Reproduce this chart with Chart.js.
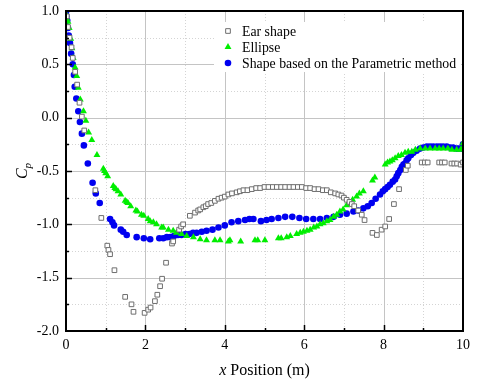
<!DOCTYPE html>
<html>
<head>
<meta charset="utf-8">
<script src="https://cdn.jsdelivr.net/npm/chart.js@4.4.0/dist/chart.umd.min.js"></script>
<style>
  html, body { margin: 0; padding: 0; background: #fff; }
</style>
</head>
<body>
<canvas id="chart" width="480" height="383"></canvas>
<script>
// Cp along the body
const earShape = [
  [0.02,0.95],[0.05,0.85],[0.09,0.75],[0.14,0.66],[0.17,0.56],[0.23,0.43],[0.28,0.31],[0.34,0.14],[0.40,0.01],[0.46,-0.12],
  [0.74,-0.68],[0.89,-0.94],[1.04,-1.20],[1.07,-1.24],[1.11,-1.28],[1.22,-1.43],[1.49,-1.68],[1.65,-1.75],[1.70,-1.82],[1.98,-1.83],
  [2.07,-1.80],[2.13,-1.78],[2.24,-1.72],[2.30,-1.66],[2.37,-1.58],[2.42,-1.51],[2.52,-1.36],[2.67,-1.18],[2.70,-1.16],[2.85,-1.05],
  [2.90,-1.02],[2.95,-1.00],[3.12,-0.92],[3.25,-0.89],[3.33,-0.87],[3.38,-0.86],[3.46,-0.84],[3.52,-0.83],[3.58,-0.81],[3.66,-0.80],
  [3.75,-0.78],[3.84,-0.76],[3.92,-0.75],[4.00,-0.74],[4.09,-0.72],[4.18,-0.71],[4.30,-0.70],[4.38,-0.69],[4.47,-0.68],[4.57,-0.68],
  [4.68,-0.67],[4.79,-0.66],[4.89,-0.66],[5.00,-0.65],[5.10,-0.65],[5.21,-0.65],[5.31,-0.65],[5.42,-0.65],[5.52,-0.65],[5.63,-0.65],
  [5.73,-0.65],[5.84,-0.65],[5.94,-0.65],[6.05,-0.66],[6.15,-0.66],[6.26,-0.67],[6.36,-0.67],[6.47,-0.68],[6.57,-0.68],[6.67,-0.70],
  [6.78,-0.71],[6.86,-0.72],[6.94,-0.73],[7.00,-0.75],[7.07,-0.77],[7.14,-0.79],[7.20,-0.81],[7.26,-0.83],[7.36,-0.87],[7.45,-0.91],
  [7.52,-0.96],[7.72,-1.08],[7.83,-1.10],[7.95,-1.05],[8.04,-1.02],[8.14,-0.95],[8.26,-0.81],[8.39,-0.67],[8.56,-0.49],[8.61,-0.45],
  [8.96,-0.42],[9.04,-0.42],[9.11,-0.42],[9.40,-0.42],[9.47,-0.42],[9.54,-0.42],[9.71,-0.43],[9.78,-0.43],[9.85,-0.43],[9.94,-0.44],
  [10.0,-0.42]
];

const ellipse = [
  [0.00,0.97],[0.02,0.93],[0.05,0.90],[0.08,0.84],[0.12,0.74],[0.15,0.65],[0.18,0.56],[0.23,0.47],[0.27,0.39],[0.31,0.28],
  [0.36,0.17],[0.44,0.06],[0.50,-0.03],[0.57,-0.14],[0.65,-0.21],[0.78,-0.35],[0.94,-0.48],[0.97,-0.50],[1.00,-0.52],[1.05,-0.55],
  [1.19,-0.64],[1.23,-0.66],[1.26,-0.67],[1.31,-0.69],[1.38,-0.72],[1.49,-0.78],[1.53,-0.79],[1.56,-0.80],[1.63,-0.83],[1.76,-0.87],
  [1.80,-0.88],[1.90,-0.91],[1.96,-0.92],[2.07,-0.95],[2.12,-0.97],[2.20,-0.98],[2.28,-1.00],[2.41,-1.03],[2.45,-1.03],[2.58,-1.05],
  [2.70,-1.06],[2.78,-1.08],[2.91,-1.09],[3.04,-1.11],[3.21,-1.12],[3.38,-1.14],[3.54,-1.15],[3.75,-1.15],[3.88,-1.15],[4.09,-1.16],
  [4.13,-1.15],[4.40,-1.16],[4.76,-1.15],[4.83,-1.15],[5.01,-1.15],[5.35,-1.13],[5.42,-1.13],[5.56,-1.12],[5.65,-1.11],[5.81,-1.09],
  [5.90,-1.08],[5.98,-1.07],[6.07,-1.06],[6.15,-1.05],[6.24,-1.03],[6.32,-1.02],[6.40,-1.00],[6.48,-0.99],[6.57,-0.97],[6.65,-0.96],
  [6.74,-0.93],[6.82,-0.91],[6.90,-0.88],[6.98,-0.86],[7.07,-0.82],[7.15,-0.80],[7.22,-0.77],[7.32,-0.74],[7.39,-0.71],[7.49,-0.69],
  [7.72,-0.59],[7.78,-0.56],[8.04,-0.44],[8.10,-0.42],[8.16,-0.41],[8.22,-0.40],[8.29,-0.38],[8.37,-0.36],[8.45,-0.35],[8.54,-0.33],
  [8.62,-0.32],[8.71,-0.32],[8.80,-0.30],[8.92,-0.29],[9.05,-0.29],[9.17,-0.29],[9.30,-0.29],[9.40,-0.29],[9.50,-0.29],[9.62,-0.29],
  [9.72,-0.30],[9.84,-0.30],[9.94,-0.30],[10.0,-0.28],[10.0,-0.24]
];

const parametric = [
  [0.00,0.99],[0.01,0.95],[0.03,0.91],[0.05,0.84],[0.07,0.77],[0.10,0.70],[0.13,0.60],[0.17,0.50],[0.20,0.40],[0.22,0.29],
  [0.26,0.18],[0.31,0.06],[0.35,-0.04],[0.40,-0.15],[0.45,-0.26],[0.55,-0.43],[0.67,-0.61],[0.75,-0.71],[0.85,-0.80],[1.11,-0.95],
  [1.17,-0.98],[1.21,-1.01],[1.38,-1.05],[1.44,-1.07],[1.53,-1.10],[1.78,-1.12],[1.96,-1.13],[2.12,-1.14],[2.35,-1.13],[2.45,-1.13],
  [2.54,-1.12],[2.63,-1.12],[2.72,-1.11],[2.82,-1.10],[2.91,-1.10],[3.01,-1.09],[3.11,-1.09],[3.20,-1.08],[3.29,-1.08],[3.42,-1.07],
  [3.54,-1.06],[3.69,-1.05],[3.84,-1.03],[4.00,-1.01],[4.17,-0.98],[4.34,-0.97],[4.51,-0.96],[4.62,-0.95],[4.72,-0.95],[4.91,-0.97],
  [5.05,-0.96],[5.18,-0.95],[5.35,-0.94],[5.52,-0.93],[5.70,-0.93],[5.88,-0.94],[6.05,-0.95],[6.23,-0.95],[6.40,-0.95],[6.57,-0.94],
  [6.74,-0.93],[6.90,-0.91],[7.07,-0.90],[7.24,-0.88],[7.36,-0.87],[7.49,-0.85],[7.60,-0.83],[7.70,-0.80],[7.80,-0.76],[7.91,-0.72],
  [7.98,-0.69],[8.04,-0.67],[8.10,-0.65],[8.16,-0.63],[8.23,-0.60],[8.29,-0.58],[8.33,-0.55],[8.37,-0.52],[8.42,-0.49],[8.46,-0.46],
  [8.50,-0.44],[8.54,-0.43],[8.58,-0.40],[8.62,-0.38],[8.69,-0.35],[8.75,-0.33],[8.83,-0.31],[8.92,-0.29],[9.00,-0.28],[9.09,-0.27],
  [9.17,-0.27],[9.25,-0.27],[9.34,-0.27],[9.42,-0.27],[9.50,-0.27],[9.59,-0.27],[9.67,-0.28],[9.75,-0.28],[9.84,-0.29],[9.90,-0.29],
  [9.97,-0.29],[10.0,-0.25]
];

const seriesNames = ['Ear shape', 'Ellipse', 'Shape based on the Parametric method'];
const xMajor = [2, 4, 6, 8];
const xMinor = [1, 3, 5, 7, 9];
const yMajor = [0.5, 0, -0.5, -1, -1.5];
const yMinor = [0.75, 0.25, -0.25, -0.75, -1.25, -1.75];

const SERIF = '"Liberation Serif", "Times New Roman", serif';

const toPts = arr => arr.map(p => ({ x: p[0], y: p[1] }));

// grid, frame, inward ticks, legend box and axis titles
const framePlugin = {
    id: 'frame',
    beforeDatasetsDraw(chart) {
        const { ctx, chartArea: a, scales: { x, y } } = chart;
        ctx.save();
        ctx.lineWidth = 1;

        ctx.strokeStyle = '#d4d4d4';
        ctx.setLineDash([1, 2]);
        xMinor.forEach(v => {
            const px = Math.round(x.getPixelForValue(v)) + 0.5;
            ctx.beginPath(); ctx.moveTo(px, a.top); ctx.lineTo(px, a.bottom); ctx.stroke();
        });
        yMinor.forEach(v => {
            const py = Math.round(y.getPixelForValue(v)) + 0.5;
            ctx.beginPath(); ctx.moveTo(a.left, py); ctx.lineTo(a.right, py); ctx.stroke();
        });

        ctx.setLineDash([]);
        ctx.strokeStyle = '#c4c4c4';
        xMajor.forEach(v => {
            const px = Math.round(x.getPixelForValue(v)) + 0.5;
            ctx.beginPath(); ctx.moveTo(px, a.top); ctx.lineTo(px, a.bottom); ctx.stroke();
        });
        yMajor.forEach(v => {
            const py = Math.round(y.getPixelForValue(v)) + 0.5;
            ctx.beginPath(); ctx.moveTo(a.left, py); ctx.lineTo(a.right, py); ctx.stroke();
        });
        ctx.restore();
    },
    afterDatasetsDraw(chart) {
        const { ctx, chartArea: a, scales: { x, y } } = chart;
        ctx.save();

        // legend
        ctx.fillStyle = '#fff';
        ctx.fillRect(214, 22, 247, 50);
        chart.data.datasets.forEach((ds, i) => {
            const cy = 31 + i * 16;
            ctx.fillStyle = ds.backgroundColor;
            ctx.strokeStyle = ds.borderColor;
            ctx.lineWidth = ds.borderWidth;
            Chart.helpers.drawPoint(ctx, {
                pointStyle: ds.pointStyle,
                radius: ds.pointRadius,
                borderWidth: ds.borderWidth,
                rotation: 0
            }, 228, cy);
            ctx.fillStyle = '#000';
            ctx.font = '13.8px ' + SERIF;
            ctx.textAlign = 'left';
            ctx.textBaseline = 'middle';
            ctx.fillText(ds.label, 242, cy + 1);
        });

        // frame
        ctx.strokeStyle = '#000';
        ctx.lineWidth = 2;
        ctx.strokeRect(a.left, a.top, a.right - a.left, a.bottom - a.top);

        // inward ticks
        ctx.lineWidth = 1.5;
        for (let v = 1; v < 10; v++) {
            const px = Math.round(x.getPixelForValue(v)) + 0.5;
            const len = v % 2 === 0 ? 6 : 3;
            ctx.beginPath(); ctx.moveTo(px, a.bottom); ctx.lineTo(px, a.bottom - len); ctx.stroke();
        }
        for (let v = -1.75; v < 1; v += 0.25) {
            const py = Math.round(y.getPixelForValue(v)) + 0.5;
            const len = Math.abs(v * 2 - Math.round(v * 2)) < 1e-6 ? 6 : 3;
            ctx.beginPath(); ctx.moveTo(a.left, py); ctx.lineTo(a.left + len, py); ctx.stroke();
        }

        // x title
        ctx.fillStyle = '#000';
        ctx.textBaseline = 'middle';
        ctx.textAlign = 'left';
        const italic = 'italic 16px ' + SERIF;
        const normal = '16px ' + SERIF;
        ctx.font = italic;
        const w1 = ctx.measureText('x').width;
        ctx.font = normal;
        const w2 = ctx.measureText(' Position (m)').width;
        const cx = (a.left + a.right) / 2;
        const sx = cx - (w1 + w2) / 2;
        ctx.font = italic;
        ctx.fillText('x', sx, 371);
        ctx.font = normal;
        ctx.fillText(' Position (m)', sx + w1, 371);

        // y title: C with subscript p
        ctx.translate(22, (a.top + a.bottom) / 2);
        ctx.rotate(-Math.PI / 2);
        ctx.font = italic;
        const wc = ctx.measureText('C').width;
        ctx.font = 'italic 11px ' + SERIF;
        const wp = ctx.measureText('p').width;
        ctx.textAlign = 'left';
        ctx.textBaseline = 'alphabetic';
        ctx.font = italic;
        ctx.fillText('C', -(wc + wp) / 2, 5);
        ctx.font = 'italic 11px ' + SERIF;
        ctx.fillText('p', -(wc + wp) / 2 + wc, 9);

        ctx.restore();
    }
};

new Chart(document.getElementById('chart'), {
    type: 'scatter',
    data: {
        datasets: [{
            label: seriesNames[0],
            data: toPts(earShape),
            pointStyle: 'rect',
            pointRadius: 3.3,
            backgroundColor: '#fff',
            borderColor: '#6e6e6e',
            borderWidth: 1
        }, {
            label: seriesNames[1],
            data: toPts(ellipse),
            pointStyle: 'triangle',
            pointRadius: 4,
            backgroundColor: '#00ee00',
            borderColor: '#00ee00',
            borderWidth: 0
        }, {
            label: seriesNames[2],
            data: toPts(parametric),
            pointStyle: 'circle',
            pointRadius: 3.3,
            backgroundColor: '#0000f0',
            borderColor: '#0000f0',
            borderWidth: 0
        }]
    },
    options: {
        responsive: false,
        animation: false,
        devicePixelRatio: 1,
        layout: { padding: { top: 11, right: 17, left: 0, bottom: 0 } },
        scales: {
            x: {
                type: 'linear',
                min: 0,
                max: 10,
                grid: { display: false, drawTicks: false },
                border: { display: false },
                ticks: {
                    stepSize: 1,
                    padding: 6,
                    color: '#000',
                    font: { family: SERIF, size: 14 },
                    maxRotation: 0,
                    callback: v => (v % 2 === 0 ? String(v) : '')
                },
                afterFit: s => { s.height = 52; s.paddingLeft = 0; s.paddingRight = 0; }
            },
            y: {
                type: 'linear',
                min: -2,
                max: 1,
                grid: { display: false, drawTicks: false },
                border: { display: false },
                ticks: {
                    stepSize: 0.25,
                    padding: 7,
                    color: '#000',
                    font: { family: SERIF, size: 14 },
                    callback: v => (Math.abs(v * 2 - Math.round(v * 2)) < 1e-6 ? v.toFixed(1) : '')
                },
                afterFit: s => { s.width = 66; s.paddingTop = 0; s.paddingBottom = 0; }
            }
        },
        plugins: {
            legend: { display: false },
            tooltip: { enabled: false }
        }
    },
    plugins: [framePlugin]
});
</script>
</body>
</html>
